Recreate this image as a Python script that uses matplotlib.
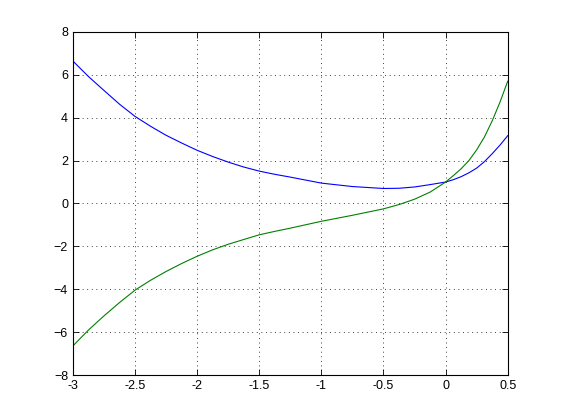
import matplotlib
matplotlib.use("Agg")
import matplotlib.pyplot as plt

x = [-3, -2.875, -2.75, -2.625, -2.5, -2.375, -2.25, -2.125, -2, -1.875,
     -1.75, -1.625, -1.5, -1.375, -1.25, -1, -0.75, -0.5, -0.375,
     -0.25, -0.125, 0, 0.0625, 0.125, 0.1875, 0.25, 0.3125, 0.375, 0.4375, 0.5]
blue = [6.64, 5.92, 5.27, 4.63, 4.06, 3.6, 3.18, 2.82, 2.48, 2.19,
        1.93, 1.7, 1.51, 1.36, 1.23, 0.95, 0.79, 0.70, 0.71,
        0.77, 0.88, 1.0, 1.11, 1.25, 1.43, 1.65, 1.95, 2.32, 2.72, 3.16]
green = [-6.64, -5.9, -5.24, -4.62, -4.04, -3.58, -3.17, -2.8, -2.46, -2.16,
         -1.9, -1.68, -1.46, -1.3, -1.15, -0.83, -0.55, -0.25, -0.05,
         0.2, 0.53, 1.0, 1.3, 1.62, 2.0, 2.5, 3.1, 3.85, 4.72, 5.7]

xticks = [-3, -2.5, -2, -1.5, -1, -0.5, 0, 0.5]
yticks = [-8, -6, -4, -2, 0, 2, 4, 6, 8]

plt.rcParams['font.family'] = ['Liberation Sans', 'DejaVu Sans']

fig = plt.figure(figsize=(5.61, 4.2), dpi=100)
ax = fig.add_axes([0.13, 0.107, 0.775, 0.817])

ax.plot(x, blue, color=(0, 0, 1), linewidth=0.8)
ax.plot(x, green, color=(0, 0.5, 0), linewidth=0.8)

ax.set_xlim(-3, 0.5)
ax.set_ylim(-8, 8)
ax.set_xticks(xticks)
ax.set_xticklabels([("%g" % t) for t in xticks])
ax.set_yticks(yticks)
ax.grid(True, linestyle=(0, (1, 4.5)), color='black', linewidth=0.6)
ax.tick_params(direction='in', top=True, right=True, labelsize=9, length=4, width=0.6)
for s in ax.spines.values():
    s.set_linewidth(0.8)

fig.savefig("out.png", dpi=100)
